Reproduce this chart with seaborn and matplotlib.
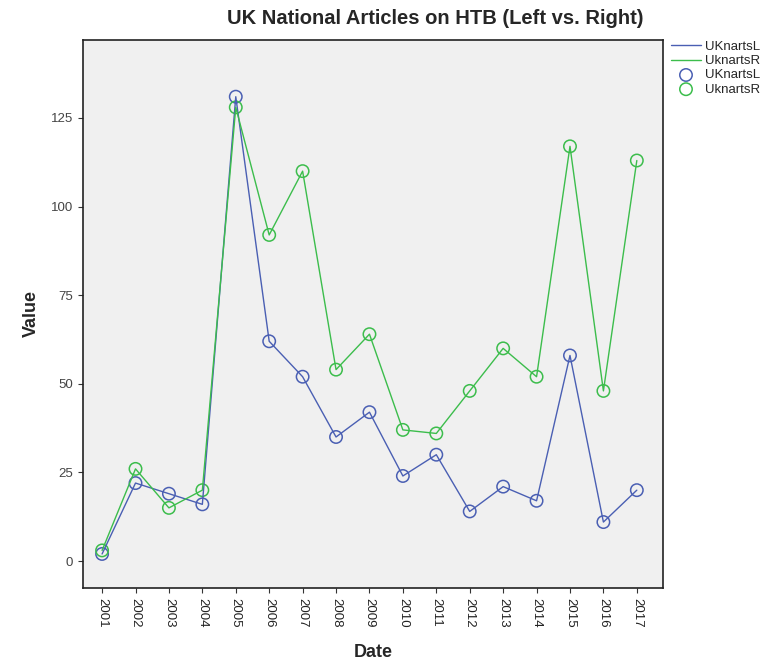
import pandas as pd
import matplotlib
matplotlib.use('Agg')
import matplotlib.pyplot as plt
import seaborn as sns

# Data
years = list(range(2001, 2018))
uk_left = [2, 22, 19, 16, 131, 62, 52, 35, 42, 24, 30, 14, 21, 17, 58, 11, 20]
uk_right = [3, 26, 15, 20, 128, 92, 110, 54, 64, 37, 36, 48, 60, 52, 117, 48, 113]
series_names = ['UKnartsL', 'UknartsR']
series_colors = ['#4a5fb3', '#3cbd4c']

sns.set_style('ticks')
plt.rcParams['font.family'] = ['Liberation Sans', 'DejaVu Sans']

fig = plt.figure(figsize=(7.66, 6.62), dpi=100)
ax = fig.add_axes([0.1084, 0.1118, 0.757, 0.8278])
ax.set_facecolor('#f0f0f0')

lines = []
dots = []
for name, vals, col in zip(series_names, [uk_left, uk_right], series_colors):
    df = pd.DataFrame({'Date': years, 'Value': vals})
    sns.lineplot(data=df, x='Date', y='Value', color=col, linewidth=1.0, ax=ax)
    lines.append(ax.lines[-1])
for name, vals, col in zip(series_names, [uk_left, uk_right], series_colors):
    df = pd.DataFrame({'Date': years, 'Value': vals})
    sns.scatterplot(data=df, x='Date', y='Value', marker='o', s=80, ax=ax)
    pts = ax.collections[-1]
    pts.set_facecolor('none')
    pts.set_edgecolor(col)
    pts.set_linewidth(1.1)
    dots.append(pts)

ax.set_xlim(2001 - 0.57, 2017 + 0.78)
ax.set_ylim(-7.6, 147)
ax.set_xticks(years)
ax.set_xticklabels([str(y) for y in years], rotation=270, fontsize=9.5)
ax.set_yticks([0, 25, 50, 75, 100, 125])
ax.tick_params(axis='y', labelsize=9.5, colors='#333333', labelcolor='#444444')
ax.tick_params(axis='x', colors='#333333', labelcolor='#222222')

for s in ax.spines.values():
    s.set_visible(True)
    s.set_color('#222222')
    s.set_linewidth(1.2)

ax.set_xlabel('Date', fontsize=13, fontweight='bold', labelpad=12)
ax.set_ylabel('Value', fontsize=13, fontweight='bold', labelpad=8)
fig.text(0.568, 0.972, 'UK National Articles on HTB (Left vs. Right)',
         ha='center', va='center', fontsize=14.5, fontweight='bold')

ax.legend(lines + dots, series_names + series_names, loc='upper left',
          bbox_to_anchor=(1.0, 1.013), frameon=False, fontsize=9.5,
          handlelength=2.3, handletextpad=0.3, labelspacing=0.15,
          borderaxespad=0.2)

fig.savefig('out.png', dpi=100)
